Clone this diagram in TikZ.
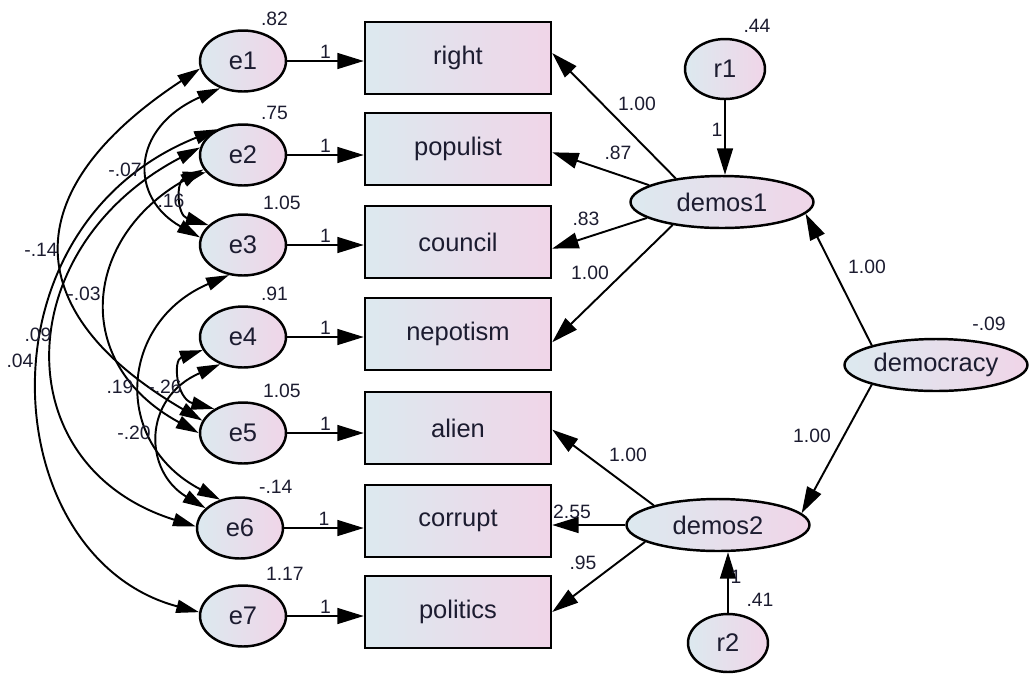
\documentclass[tikz,border=0pt]{standalone}
\usepackage{fontspec}
\setmainfont{Liberation Sans}
\usetikzlibrary{arrows.meta,shapes.geometric}
\definecolor{shadeL}{RGB}{220,233,239}
\definecolor{shadeR}{RGB}{240,213,232}
\definecolor{numcol}{RGB}{28,28,48}

\begin{document}
\begin{tikzpicture}[x=0.02cm,y=-0.02cm,
	obs/.style={draw,line width=1.4pt,rectangle,left color=shadeL,right color=shadeR,text=numcol,minimum width=3.72cm,minimum height=1.44cm,font=\fontsize{14.5}{16}\selectfont},
	err/.style={draw,line width=1.4pt,ellipse,left color=shadeL,right color=shadeR,text=numcol,inner sep=0pt,minimum width=1.72cm,minimum height=1.22cm,font=\fontsize{14.5}{16}\selectfont},
	lat/.style={err,minimum width=3.66cm,minimum height=1.04cm},
	num/.style={text=numcol,font=\fontsize{11}{12}\selectfont,inner sep=1pt},
	load/.style={line width=1.1pt,-{Triangle[length=15pt,width=9pt]}},
	cov/.style={line width=1.1pt,{Triangle[length=13pt,width=7.5pt]}-{Triangle[length=13pt,width=7.5pt]}}]
		\useasboundingbox (0,0) rectangle (1029,674);
		\node[err] (E1) at (243,61) {e1};
		\node[err] (E2) at (243,155) {e2};
		\node[err] (E3) at (243,245) {e3};
		\node[err] (E4) at (243,337) {e4};
		\node[err] (E5) at (243,433) {e5};
		\node[err] (E6) at (240,528) {e6};
		\node[err] (E7) at (243,616) {e7};
		\node[obs] (O1) at (458,58) {right};
		\node[obs] (O2) at (458,149) {populist};
		\node[obs] (O3) at (458,242) {council};
		\node[obs] (O4) at (458,334) {nepotism};
		\node[obs] (O5) at (458,428) {alien};
		\node[obs] (O6) at (458,521) {corrupt};
		\node[obs] (O7) at (458,612) {politics};
		\node[err,minimum width=1.6cm,minimum height=1.2cm] (R1) at (725,69) {r1};
		\node[lat] (D1) at (722,202) {demos1};
		\node[lat] (DEM) at (936,365) {democracy};
		\node[lat] (D2) at (718,525) {demos2};
		\node[err,minimum width=1.6cm,minimum height=1.16cm] (R2) at (728,643) {r2};
		\node[num,anchor=west] (V1) at (259,19) {.82};
		\node[num,anchor=west] (V2) at (259,113) {.75};
		\node[num,anchor=west] (V3) at (261,203) {1.05};
		\node[num,anchor=west] (V4) at (259,294) {.91};
		\node[num,anchor=west] (V5) at (261,391) {1.05};
		\node[num,anchor=west] (V6) at (257,487) {-.14};
		\node[num,anchor=west] (V7) at (264,574) {1.17};
		\node[num] (VR1) at (757,26) {.44};
		\node[num] (VDEM) at (989,324) {-.09};
		\node[num] (VR2) at (760,600) {.41};
		\draw[load] (E1.east) -- (E1.east -| O1.west) node[num,midway,above] (W1) {1};
		\draw[load] (E2.east) -- (E2.east -| O2.west) node[num,midway,above] (W2) {1};
		\draw[load] (E3.east) -- (E3.east -| O3.west) node[num,midway,above] (W3) {1};
		\draw[load] (E4.east) -- (E4.east -| O4.west) node[num,midway,above] (W4) {1};
		\draw[load] (E5.east) -- (E5.east -| O5.west) node[num,midway,above] (W5) {1};
		\draw[load] (E6.east) -- (E6.east -| O6.west) node[num,midway,above] (W6) {1};
		\draw[load] (E7.east) -- (E7.east -| O7.west) node[num,midway,above] (W7) {1};
		\draw[load] (R1.south) -- (R1.south |- D1.north) node[num,pos=.4,left] (WR1) {1};
		\draw[load] (R2.north) -- (R2.north |- D2.south) node[num,pos=.6,right] (WR2) {1};
		\draw[load] (D1.153) -- (O1.3);
		\draw[load] (D1.167) -- (O2.-2);
		\draw[load] (D1.192) -- (O3.-4);
		\draw[load] (D1.205) -- (O4.-5);
		\draw[load] (DEM.163) -- (D1.-8);
		\draw[load] (DEM.197) -- (D2.8);
		\draw[load] (D2.163) -- (O5.-1);
		\draw[load] (D2.west) -- (D2.west -| O6.east);
		\draw[load] (D2.193) -- (O7.east);
		\node[num] (L1) at (637,104) {1.00};
		\node[num] (L2) at (618,153) {.87};
		\node[num] (L3) at (586,219) {.83};
		\node[num] (L4) at (590,273) {1.00};
		\node[num] (L5) at (867,267) {1.00};
		\node[num] (L6) at (812,436) {1.00};
		\node[num] (L7) at (628,455) {1.00};
		\node[num] (L8) at (572,512) {2.55};
		\node[num] (L9) at (583,563) {.95};
		\draw[cov] (E1.190) .. controls +(-190,125) and +(-180,-105) .. (E5.163);
		\draw[cov] (E1.230) .. controls +(-90,40) and +(-71,-40) .. (E3.170);
		\draw[cov] (E2.205) .. controls +(-30,8) and +(-32,-10) .. (E3.150);
		\draw[cov] (E2.200) .. controls +(-120,68) and +(-129,-70) .. (E5.180);
		\draw[cov] (E2.170) .. controls +(-191,100) and +(-192,-60) .. (E6.178);
		\draw[cov] (E2.135) .. controls +(-245,98) and +(-203,-54) .. (E7.175);
		\draw[cov] (E3.245) .. controls +(-110,47) and +(-109,-57) .. (E6.125);
		\draw[cov] (E4.198) .. controls +(-30,10) and +(-38,-10) .. (E5.140);
		\draw[cov] (E4.230) .. controls +(-78,34) and +(-62,-37) .. (E6.150);
		\node[num] (C1) at (125,170) {-.07};
		\node[num] (C2) at (171,201) {.16};
		\node[num] (C3) at (41,250) {-.14};
		\node[num] (C4) at (84,294) {-.03};
		\node[num] (C5) at (38,335) {.09};
		\node[num] (C6) at (20,361) {.04};
		\node[num] (C7) at (120,387) {.19};
		\node[num] (C8) at (165,387) {-.26};
		\node[num] (C9) at (134,433) {-.20};
\end{tikzpicture}
\end{document}
